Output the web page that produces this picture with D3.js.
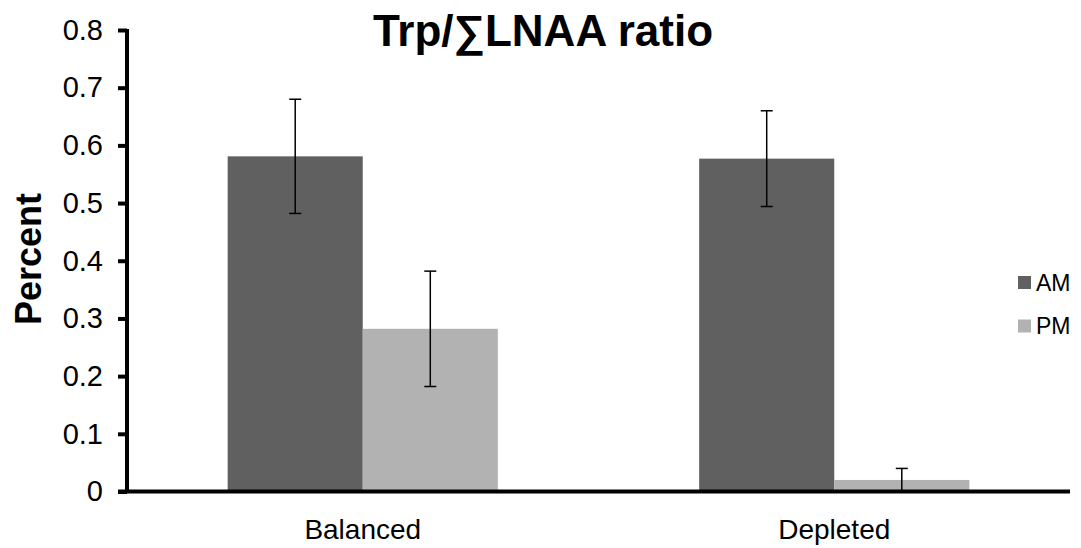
<!DOCTYPE html>
<html>
<head>
<meta charset="utf-8">
<script src="https://cdn.jsdelivr.net/npm/d3@7"></script>
<style>
  html, body { margin: 0; padding: 0; background: #fff; }
  svg { display: block; font-family: "Liberation Sans", Arial, sans-serif; }
</style>
</head>
<body>
<svg id="chart" width="1081" height="548"></svg>
<script>
const categories = ["Balanced", "Depleted"];
const seriesNames = ["AM", "PM"];
const amValues = [0.581, 0.577];
const pmValues = [0.282, 0.020];
const amErrors = [0.099, 0.083];
const pmErrors = [0.100, 0.020];
const yTicks = [0, 0.1, 0.2, 0.3, 0.4, 0.5, 0.6, 0.7, 0.8];
const colors = ["#606060", "#b2b2b2"];

const svg = d3.select("#chart");
const x0 = 127, x1 = 1070, yTop = 30, yBot = 491.5;

const y = d3.scaleLinear().domain([0, 0.8]).range([yBot, yTop]);
const xGroup = d3.scaleBand().domain(categories).range([x0, x1])
  .paddingInner(0.427).paddingOuter(0.2135);
const xSub = d3.scaleBand().domain(seriesNames).range([0, xGroup.bandwidth()]).padding(0);
const color = d3.scaleOrdinal().domain(seriesNames).range(colors);

const rows = categories.map((c, i) => ({
  cat: c,
  vals: [
    { s: "AM", v: amValues[i], e: amErrors[i] },
    { s: "PM", v: pmValues[i], e: pmErrors[i] }
  ]
}));

// bars
const g = svg.append("g");
const groups = g.selectAll("g.grp").data(rows).join("g")
  .attr("class", "grp")
  .attr("transform", d => `translate(${xGroup(d.cat)},0)`);

groups.selectAll("rect").data(d => d.vals).join("rect")
  .attr("x", d => xSub(d.s))
  .attr("width", xSub.bandwidth())
  .attr("y", d => y(d.v))
  .attr("height", d => y(0) - y(d.v))
  .attr("fill", d => color(d.s));

// error bars
const eb = groups.selectAll("g.err").data(d => d.vals).join("g").attr("class", "err");
eb.append("line")
  .attr("x1", d => xSub(d.s) + xSub.bandwidth() / 2)
  .attr("x2", d => xSub(d.s) + xSub.bandwidth() / 2)
  .attr("y1", d => y(Math.max(0, d.v - d.e)))
  .attr("y2", d => y(d.v + d.e))
  .attr("stroke", "#000").attr("stroke-width", 1.5);
eb.append("line")
  .attr("x1", d => xSub(d.s) + xSub.bandwidth() / 2 - 6)
  .attr("x2", d => xSub(d.s) + xSub.bandwidth() / 2 + 6)
  .attr("y1", d => y(d.v + d.e))
  .attr("y2", d => y(d.v + d.e))
  .attr("stroke", "#000").attr("stroke-width", 1.5);
eb.filter(d => d.v - d.e > 0.001).append("line")
  .attr("x1", d => xSub(d.s) + xSub.bandwidth() / 2 - 6)
  .attr("x2", d => xSub(d.s) + xSub.bandwidth() / 2 + 6)
  .attr("y1", d => y(d.v - d.e))
  .attr("y2", d => y(d.v - d.e))
  .attr("stroke", "#000").attr("stroke-width", 1.5);

// y axis
const yAxis = d3.axisLeft(y).tickValues(yTicks).tickSize(9).tickPadding(15)
  .tickFormat(d => d === 0 ? "0" : d3.format(".1f")(d));
const ya = svg.append("g").attr("transform", `translate(${x0},0)`).call(yAxis);
ya.select(".domain").attr("stroke", "#000").attr("stroke-width", 4)
  .attr("d", `M0,${yTop - 1}V${yBot}`);
ya.selectAll(".tick line").attr("stroke", "#000").attr("stroke-width", 4);
ya.selectAll(".tick text").attr("font-size", 29).attr("fill", "#000")
  .attr("font-family", "'Liberation Sans', Arial, sans-serif");

// x axis
const xAxis = d3.axisBottom(xGroup).tickSize(0).tickPadding(28);
const xa = svg.append("g").attr("transform", `translate(0,${yBot})`).call(xAxis);
xa.select(".domain").attr("stroke", "#000").attr("stroke-width", 4)
  .attr("d", `M${x0 - 9},0H${x1}`);
xa.selectAll(".tick text").attr("font-size", 28).attr("fill", "#000")
  .attr("font-family", "'Liberation Sans', Arial, sans-serif");

// title
svg.append("text").attr("x", 543).attr("y", 46)
  .attr("text-anchor", "middle").attr("font-size", 44).attr("font-weight", "bold")
  .text("Trp/∑LNAA ratio");

// y label
svg.append("text")
  .attr("transform", "translate(41,259) rotate(-90)")
  .attr("text-anchor", "middle").attr("font-size", 36).attr("font-weight", "bold")
  .text("Percent");

// legend
const legendY = d3.scalePoint().domain(seriesNames).range([282.5, 326]);
const lg = svg.append("g").selectAll("g").data(seriesNames).join("g")
  .attr("transform", d => `translate(1018,${legendY(d)})`);
lg.append("rect").attr("x", 0).attr("y", -6.5).attr("width", 13).attr("height", 13)
  .attr("fill", d => color(d));
lg.append("text").attr("x", 18).attr("y", 8).attr("font-size", 23).text(d => d);
</script>
</body>
</html>
